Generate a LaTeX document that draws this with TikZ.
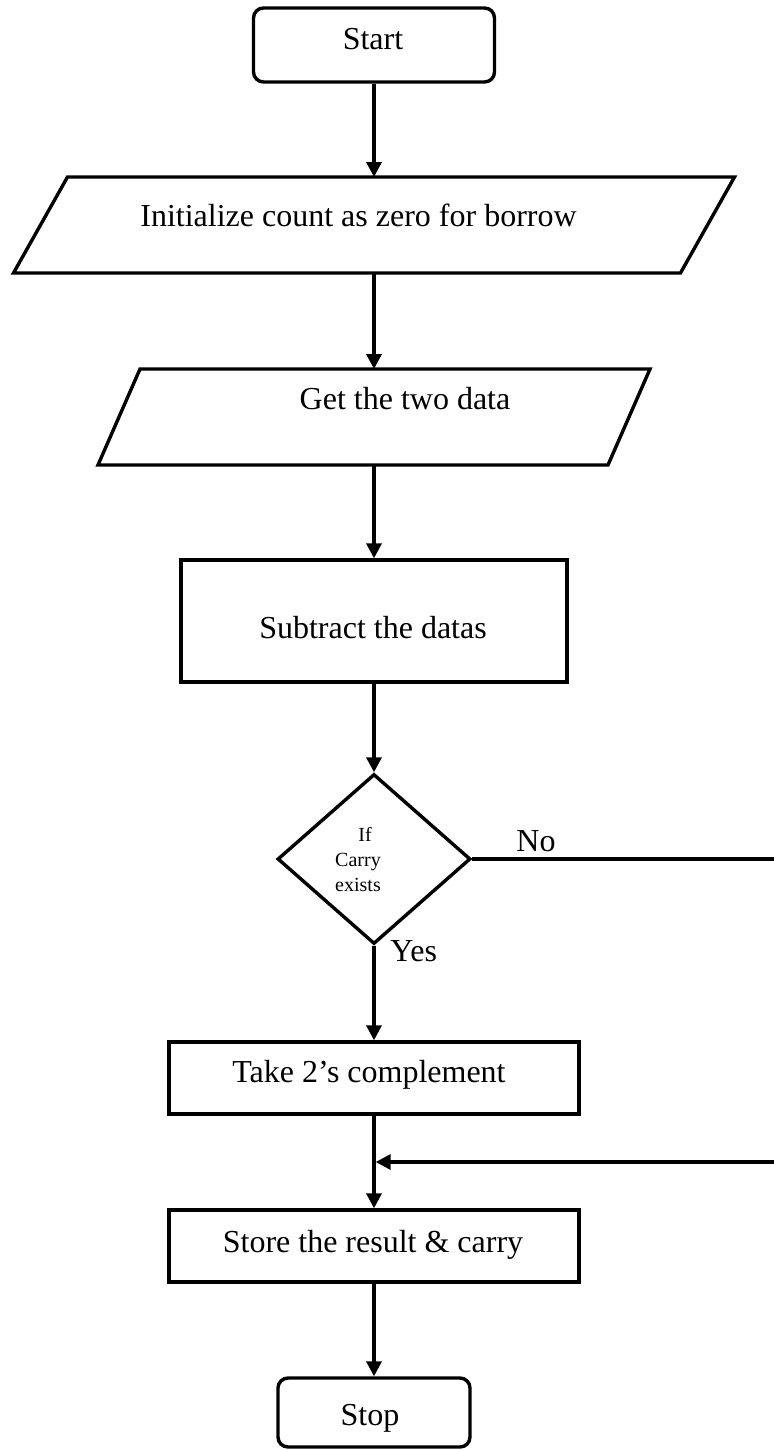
\documentclass[tikz,border=0pt]{standalone}
\usepackage{fontspec}
\setmainfont{Liberation Serif}
\usetikzlibrary{shapes.geometric,arrows.meta,calc}
\begin{document}
\begin{tikzpicture}[x=0.5pt,y=-0.5pt,
  base/.style={draw, line width=1.7pt, inner sep=0pt},
  proc/.style={base, rectangle},
  term/.style={base, rectangle, rounded corners=5pt},
  ioshape/.style={rectangle, inner sep=0pt, outer sep=0pt},
  slant/.style={line width=1.7pt, line join=miter},
  decision/.style={base, diamond},
  txt/.style={font=\fontsize{16pt}{19pt}\selectfont, anchor=base, inner sep=0pt},
  small/.style={font=\fontsize{10pt}{12.5pt}\selectfont, align=center, inner sep=0pt},
  flow/.style={line width=1.7pt, -{Triangle[width=7.5pt,length=7.5pt]}},
]
\useasboundingbox (0,0) rectangle (774,1450);

% shapes
\node[term, minimum width=120.5pt, minimum height=37pt] (start) at (374,45) {};
\node[ioshape, minimum width=360.5pt, minimum height=48pt] (init) at (374,225) {};
\draw[slant] ($(init.north west)+(54,0)$) -- (init.north east) -- ($(init.south east)+(-54,0)$) -- (init.south west) -- cycle;
\node[ioshape, minimum width=276pt, minimum height=48pt] (get) at (374,417) {};
\draw[slant] ($(get.north west)+(42,0)$) -- (get.north east) -- ($(get.south east)+(-42,0)$) -- (get.south west) -- cycle;
\node[proc, minimum width=193pt, minimum height=61pt] (sub) at (374,621) {};
\node[decision, minimum width=96.5pt, minimum height=85pt] (dec) at (374,859) {};
\node[proc, minimum width=205pt, minimum height=36pt] (take) at (374,1078) {};
\node[proc, minimum width=205pt, minimum height=36pt] (store) at (374,1246) {};
\node[term, minimum width=96pt, minimum height=34.5pt] (stop) at (374,1412.5) {};

% texts
\node[txt] (t-start) at (373,50) {Start};
\node[txt] (t-init) at (358.5,226) {Initialize count as zero for borrow};
\node[txt] (t-get) at (405,409) {Get the two data};
\node[txt] (t-sub) at (373,638) {Subtract the datas};
\node[small, anchor=center] (t-dec) at (358,860) {\hspace*{7pt}If\\Carry\\exists};
\node[txt, anchor=base west] (t-no) at (516,851) {No};
\node[txt, anchor=base west] (t-yes) at (390,961) {Yes};
\node[txt] (t-take) at (369,1082) {Take 2’s complement};
\node[txt] (t-store) at (373,1252) {Store the result \& carry};
\node[txt] (t-stop) at (370,1425) {Stop};

% connectors
\draw[flow] (start) -- (init);
\draw[flow] (init) -- (get);
\draw[flow] (get) -- (sub);
\draw[flow] (sub) -- (dec);
\draw[flow] (dec) -- (take);
\draw[flow] (take) -- (store);
\draw[flow] (store) -- (stop);
\coordinate (merge) at ($(take.south)!0.5!(store.north)$);
\coordinate (farx) at (790,0);
\draw[flow, shorten >=0.85pt] (dec.east) -- (dec.east -| farx) |- (merge);
\end{tikzpicture}
\end{document}
